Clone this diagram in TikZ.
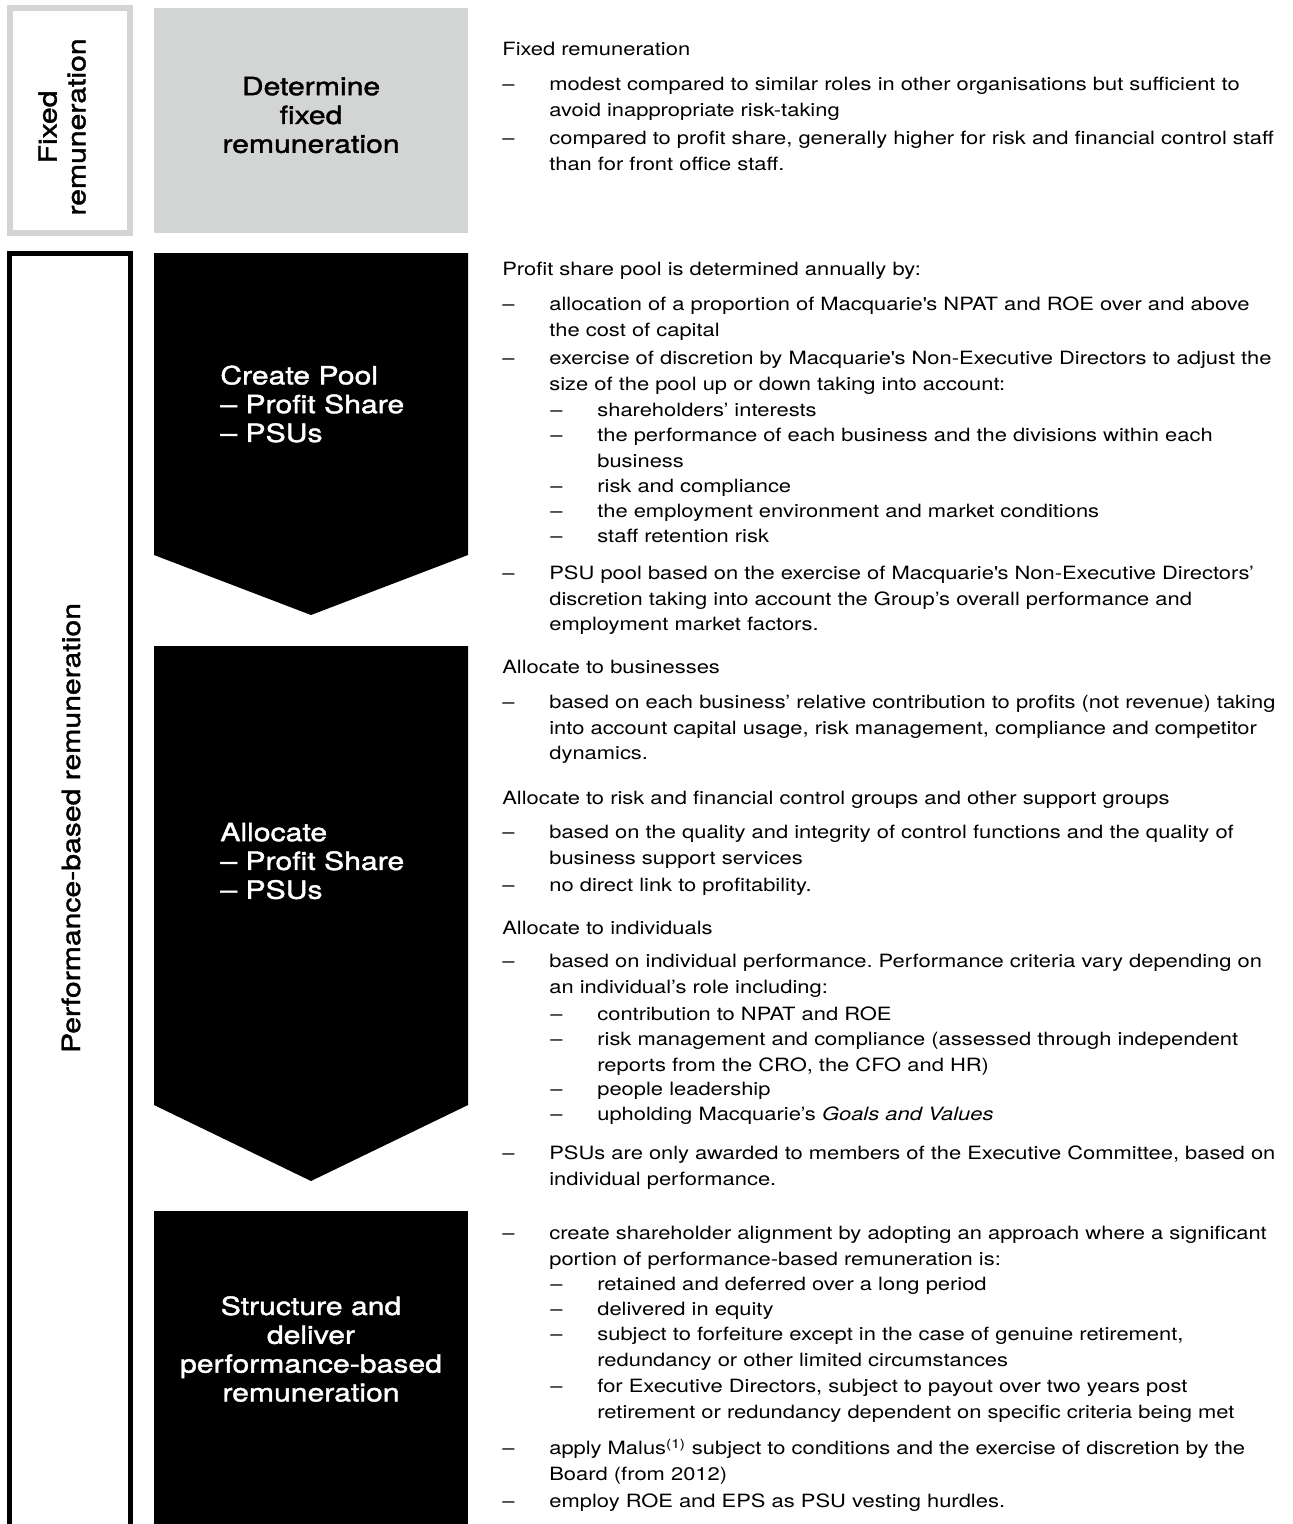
\documentclass[tikz,border=0pt]{standalone}
\usepackage{fontspec}
\setmainfont{TeX Gyre Heros}[FakeStretch=1.2]
\newfontfamily\headfam{TeX Gyre Heros}[FakeStretch=1.2, FakeBold=1.5]
\usepackage{tikz}

\definecolor{boxgray}{HTML}{D3D4D4}
\newcommand{\dsh}{\llap{\makebox[0.94cm][l]{–}}}
\newcommand{\bodyfont}{\fontsize{10.4}{14.46}\selectfont\frenchspacing}
\newcommand{\headfont}{\headfam\fontsize{14.3}{16.4}\selectfont}
\newcommand{\mq}{Macquarie\textquotesingle s}

\begin{document}
\begin{tikzpicture}[x=0.02cm, y=-0.02cm,
    headtxt/.style={font=\bodyfont, anchor=mid west, inner sep=0pt, yshift=-0.06cm, text width=15.6cm, align=left},
    itemtxt/.style={font=\bodyfont, anchor=mid west, inner sep=0pt, yshift=-0.06cm, text width=14.8cm, align=left},
    subtxt/.style={font=\bodyfont, anchor=mid west, inner sep=0pt, yshift=-0.06cm, text width=13.8cm, align=left},
    boxtxt/.style={font=\headfont, inner sep=0pt},
    sidetxt/.style={font=\headfont, inner sep=0pt, rotate=90, align=center}]
    \clip (0,0) rectangle (1293,1524);

    % left bars
    \draw[boxgray, line width=0.12cm] (10,8) rectangle (130,233);
    \draw[line width=0.11cm] (9.5,1540) |- (130.5,253.5) -- (130.5,1540);
    \node[sidetxt] (fixside) at (62,127) {Fixed\\remuneration};
    \node[sidetxt] (perfside) at (71,828) {Performance-based remuneration};

    % boxes and arrows
    \fill[boxgray] (154,8) rectangle (468,233);
    \fill[black] (154,253) -- (468,253) -- (468,555) -- (311,615) -- (154,555) -- cycle;
    \fill[black] (154,646) -- (468,646) -- (468,1105) -- (311,1181) -- (154,1105) -- cycle;
    \fill[black] (154,1211) rectangle (468,1540);

    \node[boxtxt, align=center] (fixbox) at (311,115) {Determine\\fixed\\remuneration};
    \node[boxtxt, text=white, align=left, anchor=west] (poolbox) at (220,404) {Create Pool\\– Profit Share\\– PSUs};
    \node[boxtxt, text=white, align=left, anchor=west] (allocbox) at (220,861) {Allocate\\– Profit Share\\– PSUs};
    \node[boxtxt, text=white, align=center] (structbox) at (311,1349) {Structure and\\deliver\\performance-based\\remuneration};

    % fixed remuneration
    \node[headtxt] (hFix) at (502,48) {Fixed remuneration};
    \node[itemtxt] (fixA) at (549,83) {\dsh modest compared to similar roles in other organisations but sufficient to\\avoid inappropriate risk-taking};
    \node[itemtxt] (fixB) at (549,137) {\dsh compared to profit share, generally higher for risk and financial control staff\\than for front office staff.};

    % create pool
    \node[headtxt] (hPool) at (502,268) {Profit share pool is determined annually by:};
    \node[itemtxt] (poolA) at (549,303) {\dsh allocation of a proportion of \mq{} NPAT and ROE over and above\\the cost of capital};
    \node[itemtxt] (poolB) at (549,357) {\dsh exercise of discretion by \mq{} Non-Executive Directors to adjust the\\size of the pool up or down taking into account:};
    \foreach \n/\y/\t in {poolB1/409/{shareholders' interests},
        poolB2/434/{the performance of each business and the divisions within each\\business},
        poolB3/485/{risk and compliance},
        poolB4/510/{the employment environment and market conditions},
        poolB5/535/{staff retention risk}}
        \node[subtxt] (\n) at (597,\y) {\dsh\t};
    \node[itemtxt] (poolC) at (549,572) {\dsh PSU pool based on the exercise of \mq{} Non-Executive Directors'\\discretion taking into account the Group's overall performance and\\employment market factors.};

    % allocate
    \node[headtxt] (hBus) at (502,666) {Allocate to businesses};
    \node[itemtxt] (busA) at (549,701) {\dsh based on each business' relative contribution to profits (not revenue) taking\\into account capital usage, risk management, compliance and competitor\\dynamics.};
    \node[headtxt] (hSup) at (502,797) {Allocate to risk and financial control groups and other support groups};
    \node[itemtxt] (supA) at (549,831) {\dsh based on the quality and integrity of control functions and the quality of\\business support services};
    \node[itemtxt] (supB) at (549,884) {\dsh no direct link to profitability.};
    \node[headtxt] (hInd) at (502,927) {Allocate to individuals};
    \node[itemtxt] (indA) at (549,960) {\dsh based on individual performance. Performance criteria vary depending on\\an individual's role including:};
    \foreach \n/\y/\t in {indA1/1013/{contribution to NPAT and ROE},
        indA2/1038/{risk management and compliance (assessed through independent\\reports from the CRO, the CFO and HR)},
        indA3/1088/{people leadership},
        indA4/1113/{upholding Macquarie's \textit{Goals and Values}}}
        \node[subtxt] (\n) at (597,\y) {\dsh\t};
    \node[itemtxt] (indB) at (549,1152) {\dsh PSUs are only awarded to members of the Executive Committee, based on\\individual performance.};

    % structure and deliver
    \node[itemtxt] (strA) at (549,1232) {\dsh create shareholder alignment by adopting an approach where a significant\\portion of performance-based remuneration is:};
    \foreach \n/\y/\t in {strA1/1283/{retained and deferred over a long period},
        strA2/1308/{delivered in equity},
        strA3/1333/{subject to forfeiture except in the case of genuine retirement,\\redundancy or other limited circumstances},
        strA4/1385/{for Executive Directors, subject to payout over two years post\\retirement or redundancy dependent on specific criteria being met}}
        \node[subtxt] (\n) at (597,\y) {\dsh\t};
    \node[itemtxt] (strB) at (549,1447) {\dsh apply Malus\textsuperscript{(1)} subject to conditions and the exercise of discretion by the\\Board (from 2012)};
    \node[itemtxt] (strC) at (549,1500) {\dsh employ ROE and EPS as PSU vesting hurdles.};
\end{tikzpicture}
\end{document}
